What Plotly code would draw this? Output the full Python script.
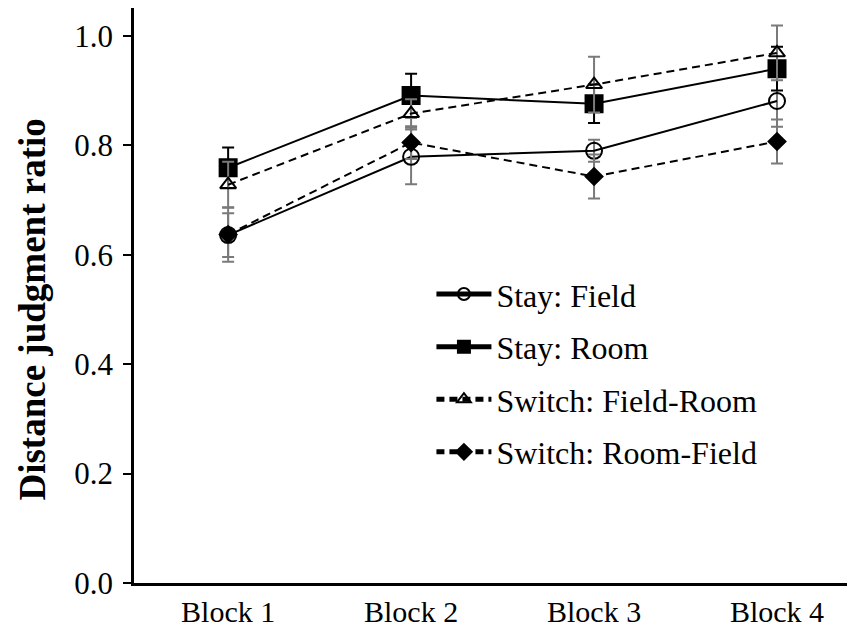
import plotly.graph_objects as go

blocks = ["Block 1", "Block 2", "Block 3", "Block 4"]

stay_field = [0.636, 0.779, 0.790, 0.881]
stay_field_err = [0.040, 0.050, 0.020, 0.047]
stay_room = [0.759, 0.891, 0.876, 0.940]
stay_room_err = [0.037, 0.040, 0.035, 0.040]
switch_fr = [0.728, 0.858, 0.911, 0.969]
switch_fr_err = [0.042, 0.026, 0.051, 0.050]
switch_rf = [0.637, 0.805, 0.743, 0.807]
switch_rf_err = [0.050, 0.030, 0.040, 0.040]

FONT = "Liberation Serif, Times New Roman, serif"
GRAY = "#7a7a7a"
DASH = "8px,5px"

series = [
    ("Stay: Field", stay_field, stay_field_err, "solid", "circle-open", 16, GRAY),
    ("Stay: Room", stay_room, stay_room_err, "solid", "square", 17, "#000000"),
    ("Switch: Field-Room", switch_fr, switch_fr_err, DASH, "triangle-up-open", 14, GRAY),
    ("Switch: Room-Field", switch_rf, switch_rf_err, DASH, "diamond", 13, GRAY),
]

fig = go.Figure()
for i, (name, vals, errs, dash, sym, size, ecol) in enumerate(series):
    fig.add_trace(go.Scatter(
        x=blocks, y=vals, name=name, mode="lines+markers",
        legendgroup=f"g{i}",
        line=dict(color="black", width=2, dash=dash),
        marker=dict(symbol=sym, size=size, color="black",
                    line=dict(color="black", width=2)),
        error_y=dict(type="data", array=errs, visible=True,
                     color=ecol, thickness=2, width=6),
    ))

fig.add_annotation(
    text="<b>Distance judgment ratio</b>", textangle=-90,
    xref="paper", yref="paper", x=-0.139, y=0.475,
    xanchor="center", yanchor="middle", showarrow=False,
    font=dict(family=FONT, size=37, color="black"),
)

fig.update_layout(
    width=855, height=644,
    margin=dict(l=126, r=0, t=0, b=69),
    paper_bgcolor="white", plot_bgcolor="white",
    font=dict(family=FONT, size=30, color="black"),
    showlegend=True,
    legend=dict(x=0.408, y=0.55, xanchor="left", yanchor="top",
                bgcolor="rgba(0,0,0,0)", tracegroupgap=8,
                itemsizing="constant",
                font=dict(family=FONT, size=32), itemwidth=55),
    xaxis=dict(range=[-0.5145, 3.470], showline=True, linecolor="black",
               linewidth=2.5, ticks="", showgrid=False, zeroline=False,
               automargin=False,
               tickfont=dict(family=FONT, size=30)),
    yaxis=dict(range=[0, 1.051], tickvals=[0, 0.2, 0.4, 0.6, 0.8, 1.0],
               ticktext=["0.0", "0.2", "0.4", "0.6", "0.8", "1.0"],
               showline=True, linecolor="black", linewidth=2.5,
               ticks="outside", ticklen=8, tickwidth=1.5, tickcolor="black",
               showgrid=False, zeroline=False, automargin=False,
               ticklabelstandoff=4,
               tickfont=dict(family=FONT, size=31)),
)

fig.write_html("out.html")
